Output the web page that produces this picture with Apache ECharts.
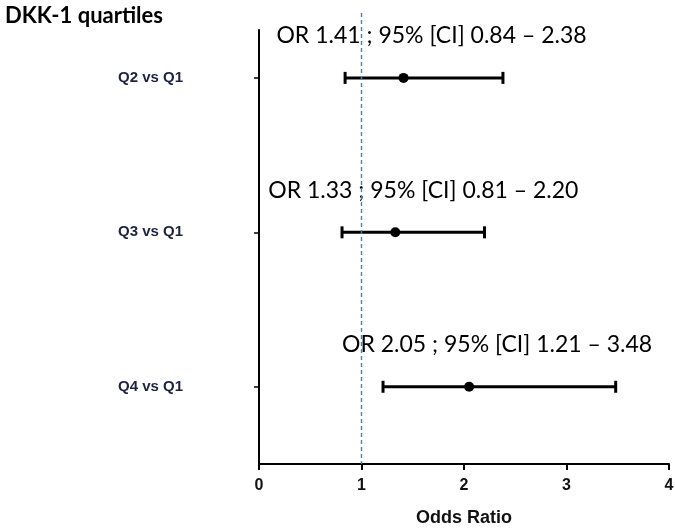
<!DOCTYPE html>
<html>
<head>
<meta charset="utf-8">
<script src="https://cdn.jsdelivr.net/npm/echarts@6/dist/echarts.min.js"></script>
<style>html,body{margin:0;padding:0;background:#fff}#c{width:675px;height:528px}</style>
</head>
<body>
<div id="c"></div>
<script>
var categories = ['Q2 vs Q1', 'Q3 vs Q1', 'Q4 vs Q1'];
var yPositions = [5, 3, 1];
var oddsRatio = [1.41, 1.33, 2.05];
var ciLow = [0.84, 0.81, 1.21];
var ciHigh = [2.38, 2.20, 3.48];
var xTicks = [0, 1, 2, 3, 4];
var refValue = 1;

var labels = categories.map(function (c, i) {
  return 'OR ' + oddsRatio[i].toFixed(2) + ' ; 95% [CI] ' + ciLow[i].toFixed(2) + ' \u2013 ' + ciHigh[i].toFixed(2);
});
var data = categories.map(function (c, i) {
  return [ciLow[i], ciHigh[i], oddsRatio[i], yPositions[i], labels[i]];
});
var yMax = 5.62;

var chart = echarts.init(document.getElementById('c'), null, {renderer: 'canvas'});
chart.setOption({
  animation: false,
  title: {
    text: 'DKK-1 quartiles', left: 0, top: 0,
    textStyle: {fontFamily: 'Lato', fontWeight: 'bold', fontSize: 22, color: '#000'}
  },
  grid: {left: 259, right: 6, top: 30, bottom: 64, containLabel: false, outerBoundsMode: 'none'},
  xAxis: {
    type: 'value', min: 0, max: 4, interval: 1,
    name: 'Odds Ratio', nameLocation: 'middle', nameGap: 45,
    nameTextStyle: {fontFamily: 'Liberation Sans', fontWeight: 'bold', fontSize: 18, color: '#111'},
    axisLine: {show: true, lineStyle: {color: '#000', width: 2}},
    axisTick: {show: true, length: 6, lineStyle: {color: '#000', width: 2}},
    axisLabel: {margin: 14, fontFamily: 'Liberation Sans', fontWeight: 'bold', fontSize: 16, color: '#111',
      customValues: xTicks},
    splitLine: {show: false}
  },
  yAxis: {
    type: 'value', min: 0, max: yMax,
    axisLine: {show: true, lineStyle: {color: '#000', width: 2}},
    axisTick: {show: true, length: 5, customValues: yPositions, lineStyle: {color: '#000', width: 1.5}},
    axisLabel: {
      customValues: yPositions, margin: 76,
      fontFamily: 'Liberation Sans', fontWeight: 'bold', fontSize: 15, color: '#1c2340',
      formatter: function (v) {
        var i = yPositions.indexOf(v);
        return i >= 0 ? categories[i] : '';
      }
    },
    splitLine: {show: false}
  },
  series: [
    {
      type: 'custom',
      clip: false,
      data: [[refValue]],
      renderItem: function (params, api) {
        var top = api.coord([api.value(0), yMax]);
        var bot = api.coord([api.value(0), 0]);
        return {
          type: 'line', z2: 5,
          shape: {x1: top[0], y1: top[1] - 17, x2: bot[0], y2: bot[1]},
          style: {stroke: '#3a80dc', lineWidth: 1.4, lineDash: [4, 3]}
        };
      }
    },
    {
      type: 'custom',
      clip: false,
      data: data,
      renderItem: function (params, api) {
        var y = api.value(3);
        var lo = api.coord([api.value(0), y]);
        var hi = api.coord([api.value(1), y]);
        var pt = api.coord([api.value(2), y]);
        var cap = 6;
        var style = {stroke: '#000', lineWidth: 3};
        return {
          type: 'group', z2: 10,
          children: [
            {type: 'line', shape: {x1: lo[0], y1: lo[1], x2: hi[0], y2: hi[1]}, style: style},
            {type: 'line', shape: {x1: lo[0], y1: lo[1] - cap, x2: lo[0], y2: lo[1] + cap}, style: style},
            {type: 'line', shape: {x1: hi[0], y1: hi[1] - cap, x2: hi[0], y2: hi[1] + cap}, style: style},
            {type: 'circle', shape: {cx: pt[0], cy: pt[1], r: 5}, style: {fill: '#000'}},
            {type: 'text', x: pt[0] + 28, y: pt[1] - 42,
              style: {text: api.value(4), fontFamily: 'Lato', fontSize: 23, fill: '#000',
                align: 'center', verticalAlign: 'middle'}}
          ]
        };
      }
    }
  ]
});
</script>
</body>
</html>
